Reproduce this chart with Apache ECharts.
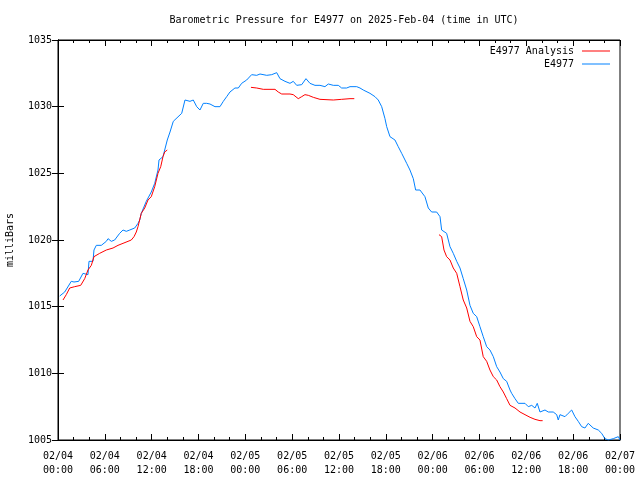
<!DOCTYPE html>
<html>
<head>
<meta charset="utf-8">
<script src="https://cdn.jsdelivr.net/npm/echarts@6/dist/echarts.min.js"></script>
<style>html,body{margin:0;padding:0;background:#fff}#c{width:640px;height:480px}</style>
</head>
<body>
<div id="c"></div>
<script>
// Hours since 02/04 00:00 UTC, pressure in milliBars
const tickLabels = ['02/04\n00:00','02/04\n06:00','02/04\n12:00','02/04\n18:00','02/05\n00:00','02/05\n06:00','02/05\n12:00','02/05\n18:00','02/06\n00:00','02/06\n06:00','02/06\n12:00','02/06\n18:00','02/07\n00:00'];
const yTicks = [1005, 1010, 1015, 1020, 1025, 1030, 1035];

const observed = [
[0.22,1015.8],[0.86,1016.1],[1.70,1016.9],[2.05,1016.85],[2.65,1016.9],[3.20,1017.5],[3.84,1017.4],[3.97,1018.4],[4.48,1018.4],[4.61,1019.25],[4.91,1019.6],[5.12,1019.5],[5.55,1019.6],[6.19,1019.9],[6.41,1020.1],[6.83,1019.9],[7.26,1020.0],[7.90,1020.5],[8.33,1020.75],[8.75,1020.65],[9.19,1020.75],[9.83,1020.9],[10.25,1021.25],[10.47,1021.5],[10.67,1022.0],[11.31,1022.9],[11.95,1023.6],[12.39,1024.25],[12.81,1025.25],[12.94,1026.0],[13.45,1026.25],[14.00,1027.5],[14.35,1028.1],[14.77,1028.9],[15.85,1029.5],[16.27,1030.5],[16.91,1030.4],[17.33,1030.5],[17.77,1030.0],[18.19,1029.75],[18.61,1030.25],[19.05,1030.25],[19.47,1030.2],[20.11,1030.0],[20.75,1030.0],[21.18,1030.4],[21.61,1030.75],[22.03,1031.1],[22.67,1031.4],[23.10,1031.4],[23.53,1031.75],[24.17,1032.0],[24.81,1032.4],[25.46,1032.35],[25.88,1032.45],[26.74,1032.35],[27.38,1032.4],[28.02,1032.55],[28.44,1032.1],[29.08,1031.9],[29.72,1031.75],[30.14,1031.9],[30.58,1031.6],[31.22,1031.65],[31.77,1032.1],[32.28,1031.75],[32.92,1031.6],[33.56,1031.6],[34.20,1031.5],[34.63,1031.7],[35.27,1031.6],[35.91,1031.6],[36.34,1031.4],[36.98,1031.4],[37.41,1031.5],[38.27,1031.5],[38.69,1031.4],[39.11,1031.25],[39.97,1031.0],[40.61,1030.75],[41.03,1030.5],[41.47,1030.0],[41.89,1029.1],[42.11,1028.5],[42.53,1027.75],[43.17,1027.5],[43.59,1027.0],[44.03,1026.5],[44.67,1025.75],[45.09,1025.25],[45.52,1024.6],[45.82,1023.75],[46.37,1023.75],[47.01,1023.25],[47.44,1022.4],[47.87,1022.1],[48.51,1022.1],[48.94,1021.75],[49.15,1020.75],[49.79,1020.5],[50.22,1019.5],[50.64,1019.0],[51.08,1018.4],[51.50,1017.9],[51.92,1017.1],[52.36,1016.25],[52.78,1015.1],[53.20,1014.5],[53.64,1014.25],[54.06,1013.5],[54.48,1012.75],[54.92,1012.0],[55.34,1011.75],[55.77,1011.25],[56.20,1010.5],[56.62,1010.1],[57.05,1009.6],[57.48,1009.4],[57.91,1008.75],[58.12,1008.5],[58.55,1008.1],[58.97,1007.75],[59.83,1007.75],[60.25,1007.5],[60.69,1007.6],[61.11,1007.4],[61.40,1007.75],[61.75,1007.1],[61.97,1007.25],[62.39,1007.25],[62.81,1007.1],[63.45,1007.1],[63.89,1006.9],[64.09,1006.5],[64.31,1006.9],[64.95,1006.75],[65.37,1007.0],[65.81,1007.25],[66.23,1006.75],[66.65,1006.4],[67.09,1006.0],[67.51,1005.9],[67.93,1006.25],[68.57,1005.9],[69.22,1005.75],[69.65,1005.5],[70.07,1005.1],[70.50,1005.0],[71.14,1005.1],[71.36,1005.0],[71.78,1005.25],[72.0,1005.0]
];

const analysisA = [
[0.64,1015.5],[1.06,1015.9],[1.50,1016.4],[2.14,1016.5],[2.91,1016.6],[3.42,1017.1],[3.84,1017.75],[4.27,1018.1],[4.61,1018.75],[5.34,1019.0],[6.19,1019.25],[7.05,1019.4],[7.69,1019.6],[8.33,1019.75],[8.97,1019.9],[9.39,1020.0],[9.74,1020.25],[10.03,1020.6],[10.25,1021.0],[10.67,1022.0],[11.11,1022.4],[11.53,1023.0],[11.95,1023.25],[12.39,1024.0],[12.81,1025.0],[13.16,1025.5],[13.45,1026.25],[13.67,1026.6],[14.00,1026.75]
];
const analysisB = [
[24.72,1031.45],[25.46,1031.4],[26.30,1031.3],[27.80,1031.3],[28.22,1031.1],[28.66,1030.95],[29.72,1030.95],[30.14,1030.9],[30.78,1030.6],[31.22,1030.75],[31.64,1030.9],[32.07,1030.85],[32.71,1030.7],[33.56,1030.55],[35.27,1030.5],[36.34,1030.55],[37.41,1030.6],[37.96,1030.6]
];
const analysisC = [
[48.81,1020.4],[49.15,1020.25],[49.45,1019.25],[49.79,1018.75],[50.22,1018.5],[50.64,1017.9],[51.08,1017.5],[51.50,1016.5],[51.92,1015.5],[52.36,1014.9],[52.78,1013.9],[53.20,1013.5],[53.64,1012.75],[54.06,1012.5],[54.48,1011.25],[54.92,1010.9],[55.34,1010.25],[55.77,1009.75],[56.20,1009.5],[56.62,1009.0],[57.05,1008.6],[57.48,1008.1],[57.91,1007.6],[58.55,1007.4],[59.19,1007.1],[59.83,1006.9],[60.48,1006.7],[61.11,1006.55],[61.75,1006.45],[62.09,1006.45]
];

const analysis = analysisA.concat([[null,null]], analysisB, [[null,null]], analysisC);

const FONT = 'DejaVu Sans Mono';
const chart = echarts.init(document.getElementById('c'), null, {renderer:'canvas'});

const xCommon = {
  type:'value', min:0, max:72, interval:6,
  axisLine:{show:true, lineStyle:{color:'#000', width:1}},
  axisTick:{show:true, inside:true, length:6, lineStyle:{color:'#000'}},
  minorTick:{show:true, splitNumber:3, length:3, lineStyle:{color:'#000'}},
  splitLine:{show:false}
};
const yCommon = {
  type:'value', min:yTicks[0], max:yTicks[yTicks.length-1], interval:5,
  axisLine:{show:true, lineStyle:{color:'#000', width:1}},
  axisTick:{show:true, inside:true, length:6, lineStyle:{color:'#000'}},
  splitLine:{show:false}
};
const legendCommon = {
  right:25, align:'right', orient:'horizontal', icon:'rect', itemWidth:28, itemHeight:1,
  textStyle:{fontFamily:FONT, fontSize:10, color:'#000', padding:[0,3,0,0]}, selectedMode:false
};

chart.setOption({
  animation:false,
  backgroundColor:'#fff',
  title:{
    text:'Barometric Pressure for E4977 on 2025-Feb-04 (time in UTC)',
    left:339, top:10, textAlign:'center',
    textStyle:{fontFamily:FONT, fontSize:10, fontWeight:'normal', color:'#000'}
  },
  legend:[
    Object.assign({}, legendCommon, {data:['E4977 Analysis'], top:41}),
    Object.assign({}, legendCommon, {data:['E4977'], top:54})
  ],
  grid:{left:58, right:20, top:40, bottom:40, containLabel:false, outerBoundsMode:'none',
        show:true, borderColor:'#000', borderWidth:1},
  xAxis:[
    Object.assign({}, xCommon, {position:'bottom',
      axisLabel:{show:true, margin:9, fontFamily:FONT, fontSize:10, color:'#000', lineHeight:14,
        formatter:function(v){ return tickLabels[Math.round(v/6)]; }}}),
    Object.assign({}, xCommon, {position:'top', axisLabel:{show:false}})
  ],
  yAxis:[
    Object.assign({}, yCommon, {position:'left',
      name:'milliBars', nameLocation:'middle', nameGap:43, nameRotate:90,
      nameTextStyle:{fontFamily:FONT, fontSize:10, color:'#000'},
      axisLabel:{show:true, margin:6, fontFamily:FONT, fontSize:10, color:'#000',
        formatter:function(v){ return String(v); }}}),
    Object.assign({}, yCommon, {position:'right', axisLabel:{show:false}})
  ],
  series:[
    {name:'E4977 Analysis', type:'line', data:analysis, symbol:'none', showSymbol:false, connectNulls:false,
     lineStyle:{color:'#ff0000', width:1}, itemStyle:{color:'#ff0000'}, xAxisIndex:0, yAxisIndex:0, z:3},
    {name:'E4977', type:'line', data:observed, symbol:'none', showSymbol:false,
     lineStyle:{color:'#0080ff', width:1}, itemStyle:{color:'#0080ff'}, xAxisIndex:0, yAxisIndex:0, z:2}
  ]
});
</script>
</body>
</html>
